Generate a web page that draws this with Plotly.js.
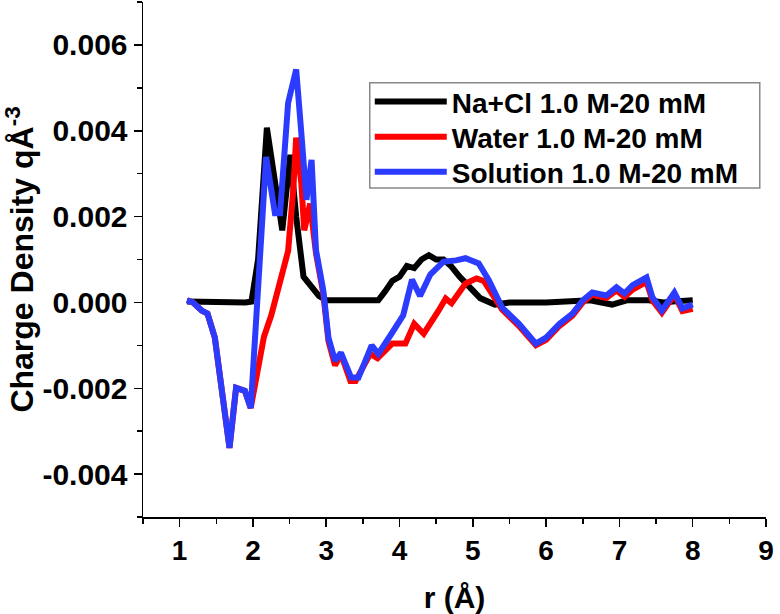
<!DOCTYPE html>
<html>
<head>
<meta charset="utf-8">
<script src="https://cdn.plot.ly/plotly-3.0.1.min.js"></script>
<style>
  body { margin: 0; background: #fff; }
  #plotArea { width: 780px; height: 614px; }
</style>
</head>
<body>
<div id="plotArea"></div>
<script>
// r in Angstrom, charge density in q/A^3
var naclR = [1.10, 1.50, 1.90, 1.98, 2.07, 2.19, 2.40, 2.51, 2.59, 2.69, 2.78, 2.90, 3.00, 3.30, 3.71,
  3.80, 3.90, 4.00, 4.10, 4.20, 4.30, 4.40, 4.50, 4.60, 4.70, 4.82, 4.95, 5.10, 5.30, 5.50,
  6.00, 6.30, 6.60, 6.90, 7.10, 7.40, 7.60, 7.80, 8.00];
var naclRho = [0.00002, 0.0, 0.0, 0.00002, 0.0010, 0.00407, 0.00168, 0.00344, 0.0020, 0.0006, 0.0004, 0.00015, 0.00005, 0.00005, 0.00005,
  0.00025, 0.0005, 0.0006, 0.00085, 0.0008, 0.0010, 0.0011, 0.0010, 0.0010, 0.00085, 0.0006, 0.00035, 0.0001, -0.00005, 0.0,
  0.0, 0.00002, 0.00005, -0.00005, 0.00005, 0.00005, 0.0, 0.00003, 0.00005];

var waterR = [1.10, 1.18, 1.30, 1.38, 1.48, 1.56, 1.68, 1.77, 1.89, 1.97, 2.07, 2.15, 2.25, 2.40, 2.48,
  2.55, 2.59, 2.66, 2.70, 2.78, 2.86, 2.96, 3.03, 3.12, 3.20, 3.33, 3.40, 3.60, 3.70, 3.90,
  4.08, 4.20, 4.33, 4.53, 4.63, 4.71, 4.90, 5.05, 5.15, 5.40, 5.63, 5.86, 6.00, 6.18, 6.36,
  6.50, 6.63, 6.82, 6.96, 7.07, 7.18, 7.37, 7.45, 7.58, 7.75, 7.86, 8.00];
var waterRho = [0.00005, 0.0, -0.00019, -0.00026, -0.00082, -0.00182, -0.00339, -0.00199, -0.00206, -0.00246, -0.0016, -0.0008, -0.0003, 0.0006, 0.0012,
  0.00262, 0.00384, 0.00278, 0.00168, 0.0023, 0.00115, 0.0002, -0.0009, -0.00147, -0.0012, -0.00183, -0.00183, -0.0012, -0.0013, -0.00096,
  -0.00096, -0.0005, -0.00073, -0.0002, 0.00009, -0.00002, 0.00044, 0.00056, 0.0005, -0.00017, -0.00055, -0.0010, -0.00087, -0.00055, -0.00031,
  0.0, 0.00018, 0.0001, 0.00028, 0.00013, 0.0003, 0.00048, 0.00005, -0.00024, 0.00018, -0.0002, -0.00015];

var solR = [1.10, 1.18, 1.30, 1.38, 1.48, 1.56, 1.68, 1.77, 1.89, 1.97, 2.18, 2.30, 2.37, 2.48, 2.59,
  2.66, 2.73, 2.80, 2.86, 2.96, 3.03, 3.12, 3.20, 3.34, 3.44, 3.62, 3.71, 3.89, 4.05, 4.17,
  4.28, 4.42, 4.60, 4.77, 4.90, 5.08, 5.22, 5.40, 5.63, 5.86, 6.00, 6.18, 6.36, 6.50, 6.63,
  6.82, 6.96, 7.07, 7.18, 7.37, 7.45, 7.58, 7.75, 7.86, 8.00];
var solRho = [0.00005, 0.0, -0.00019, -0.00026, -0.00082, -0.00182, -0.00339, -0.00199, -0.00206, -0.00246, 0.00339, 0.00208, 0.00208, 0.00465, 0.00543,
  0.00395, 0.00239, 0.00332, 0.00122, 0.00028, -0.00082, -0.00136, -0.00117, -0.00175, -0.00175, -0.0010, -0.0012, -0.00073, -0.0003, 0.00053,
  0.00015, 0.00065, 0.00095, 0.00098, 0.00103, 0.00091, 0.00051, -0.00012, -0.0005, -0.00096, -0.00082, -0.0005, -0.00026, 0.00005, 0.00023,
  0.00016, 0.00035, 0.00021, 0.0004, 0.00058, 0.00012, -0.00019, 0.00023, -0.00014, -0.00005];

var seriesNames = ['Na+Cl 1.0 M-20 mM', 'Water 1.0 M-20 mM', 'Solution 1.0 M-20 mM'];

// y tick labels use a plain hyphen, as in the original figure
var yTickVals = [-0.004, -0.002, 0, 0.002, 0.004, 0.006];
var yTickText = ['-0.004', '-0.002', '0.000', '0.002', '0.004', '0.006'];

var boldFont = 'Liberation Sans, Arial, sans-serif';
var narrowFont = 'Liberation Sans Narrow, Arial Narrow, Liberation Sans, sans-serif';

var trace1 = {
  x: naclR, y: naclRho, mode: 'lines', type: 'scatter', name: seriesNames[0],
  line: { color: '#000000', width: 6 }, legend: 'legend'
};
var trace2 = {
  x: waterR, y: waterRho, mode: 'lines', type: 'scatter', name: seriesNames[1],
  line: { color: '#ff0000', width: 6 }, legend: 'legend2'
};
var trace3 = {
  x: solR, y: solRho, mode: 'lines', type: 'scatter', name: seriesNames[2],
  line: { color: '#2b3cff', width: 6 }, legend: 'legend3'
};

var data = [trace1, trace2, trace3];

// one legend per row so the rows can sit as close as in the original
function legendRow(yc) {
  return {
    x: 0.364, y: yc, xanchor: 'left', yanchor: 'middle',
    bgcolor: 'rgba(0,0,0,0)', borderwidth: 0,
    font: { family: boldFont, size: 28, color: '#000', weight: 'bold' },
    itemwidth: 72
  };
}

var layout = {
  width: 780,
  height: 614,
  margin: { l: 143, r: 14, t: 2, b: 97 },
  paper_bgcolor: '#ffffff',
  plot_bgcolor: '#ffffff',
  showlegend: true,
  legend: legendRow(0.806),
  legend2: legendRow(0.738),
  legend3: legendRow(0.670),
  shapes: [{
    type: 'rect', xref: 'paper', yref: 'paper', layer: 'above',
    x0: 0.364, x1: 0.990, y0: 0.639, y1: 0.843,
    line: { color: '#888888', width: 1.5 }, fillcolor: '#ffffff'
  }],
  xaxis: {
    range: [0.5, 9], dtick: 1, tick0: 0,
    showgrid: false, zeroline: false,
    showline: true, linecolor: '#000', linewidth: 1.5,
    ticks: 'outside', ticklen: 8, tickwidth: 1.5, tickcolor: '#000',
    minor: { dtick: 0.5, ticks: 'outside', ticklen: 5, tickwidth: 1.5, tickcolor: '#000' },
    tickfont: { family: narrowFont, size: 28, color: '#000', weight: 'bold' },
    title: { text: 'r (Å)', font: { family: narrowFont, size: 30, color: '#000', weight: 'bold' }, standoff: 22 }
  },
  yaxis: {
    range: [-0.005, 0.007], tickmode: 'array', tickvals: yTickVals, ticktext: yTickText,
    showgrid: false, zeroline: false,
    showline: true, linecolor: '#000', linewidth: 1.5,
    ticks: 'outside', ticklen: 8, tickwidth: 1.5, tickcolor: '#000',
    minor: { tickmode: 'linear', tick0: 0, dtick: 0.001, ticks: 'outside', ticklen: 5, tickwidth: 1.5, tickcolor: '#000' },
    tickfont: { family: boldFont, size: 30, color: '#000', weight: 'bold' },
    title: { text: 'Charge Density qÅ<sup>-3</sup>', font: { family: boldFont, size: 32, color: '#000', weight: 'bold' }, standoff: 4 }
  }
};

Plotly.newPlot('plotArea', data, layout, { displayModeBar: false, staticPlot: true });
</script>
</body>
</html>
